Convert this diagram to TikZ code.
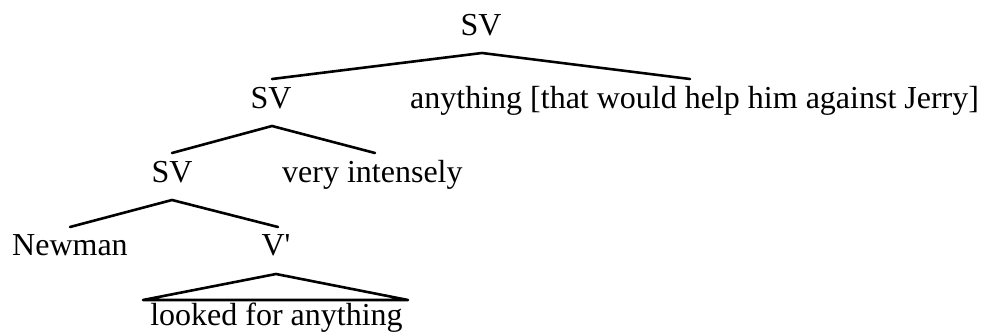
\documentclass[tikz,border=0pt]{standalone}
\usepackage{fontspec}
\setmainfont{Liberation Serif}
\begin{document}
\begin{tikzpicture}[x=1pt,y=-1pt,
  lbl/.style={inner sep=0pt,font=\fontsize{32}{38}\selectfont},
  edge/.style={line width=2.6pt,line cap=round,line join=round}]
\useasboundingbox (0,0) rectangle (990,335);
% labels
\node[lbl,anchor=base] (sv1) at (481,35) {SV};
\node[lbl,anchor=base] (sv2) at (271,108) {SV};
\node[lbl,anchor=base west] (obj) at (410,108) {anything [that would help him against Jerry]};
\node[lbl,anchor=base] (sv3) at (172,182) {SV};
\node[lbl,anchor=base west] (adv) at (282,182) {very intensely};
\node[lbl,anchor=base west] (subj) at (12,255) {Newman};
\node[lbl,anchor=base] (vbar) at (276,255) {V\textquotesingle};
\node[lbl,anchor=base] (vp) at (276.5,325) {looked for anything};
% branch points
\coordinate (a1) at (482,53);
\coordinate (l1) at (272,79);
\coordinate (r1) at (690,79);
\coordinate (a2) at (272,126);
\coordinate (l2) at (172,153);
\coordinate (r2) at (375,153);
\coordinate (a3) at (172,200);
\coordinate (l3) at (70,227);
\coordinate (r3) at (278,227);
\coordinate (a4) at (276,274);
\coordinate (l4) at (143,300);
\coordinate (r4) at (408,300);
% branches
\draw[edge] (l1) -- (a1) -- (r1);
\draw[edge] (l2) -- (a2) -- (r2);
\draw[edge] (l3) -- (a3) -- (r3);
\draw[edge] (l4) -- (a4) -- (r4) -- cycle;
\end{tikzpicture}
\end{document}
